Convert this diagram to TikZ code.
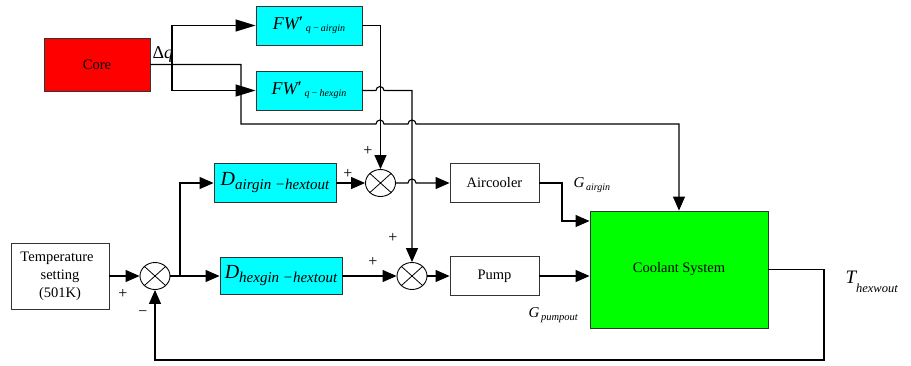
\documentclass[tikz,border=0pt]{standalone}
\usepackage{fontspec}
\setmainfont{Liberation Serif}
\usetikzlibrary{arrows.meta,shapes.geometric}
\newcommand{\fsz}[1]{\fontsize{#1}{#1}\selectfont}
\definecolor{cyanbox}{RGB}{0,255,255}
\definecolor{redbox}{RGB}{255,0,0}
\definecolor{greenbox}{RGB}{0,255,0}
\begin{document}
\begin{tikzpicture}[x=1pt,y=-1pt,
  line width=1.1pt,
  box/.style={draw=black!80, line width=0.9pt, rectangle, inner sep=0pt, font=\fsz{14.5}},
  sumnode/.style={draw, ellipse, minimum width=30pt, minimum height=27pt, inner sep=0pt, line width=0.9pt,
    path picture={\draw[line width=0.8pt] (path picture bounding box.north west) -- (path picture bounding box.south east)
      (path picture bounding box.north east) -- (path picture bounding box.south west);}},
  arr/.style={-{Triangle[length=14pt,width=12pt]}},
  arrl/.style={-{Triangle[length=20pt,width=12pt]}},
  sign/.style={font=\fsz{16}, inner sep=0pt},
  lbl/.style={inner sep=0pt, anchor=base west}
]
\useasboundingbox (0,0) rectangle (911,365);

% blocks
\node[box, fill=redbox, minimum width=106pt, minimum height=53pt] (core) at (97,64.5) {Core};
\node[box, fill=cyanbox, minimum width=106pt, minimum height=39pt] (fwa) at (309,25.5)
  {{\fsz{18}\itshape FW}\raisebox{2pt}{\fsz{16}\bfseries ′}\,\raisebox{-2pt}{\fsz{10}\itshape q\,−\,airgin}};
\node[box, fill=cyanbox, minimum width=106pt, minimum height=39pt] (fwh) at (309,90.5)
  {{\fsz{18}\itshape FW}\raisebox{2pt}{\fsz{16}\bfseries ′}\,\raisebox{-2pt}{\fsz{10}\itshape q\,−\,hexgin}};
\node[box, minimum width=98pt, minimum height=66pt, align=center, font={\fontsize{14.5}{18}\selectfont}] (temp) at (60,276)
  {\hspace*{-6pt}Temperature\\setting\\(501K)};
\node[sumnode] (sum0) at (155,276) {};
\node[box, fill=cyanbox, minimum width=122pt, minimum height=39pt] (da) at (275,183)
  {{\fsz{20}\itshape D}\raisebox{-4pt}{\fsz{15}\itshape airgin −hextout}};
\node[box, fill=cyanbox, minimum width=122pt, minimum height=37pt] (dh) at (281,276)
  {{\fsz{20}\itshape D}\raisebox{-4pt}{\fsz{15}\itshape hexgin −hextout}};
\node[sumnode] (sum1) at (380.5,183) {};
\node[sumnode] (sum2) at (412,276) {};
\node[box, minimum width=89pt, minimum height=39pt] (air) at (494.5,183) {Aircooler};
\node[box, minimum width=89pt, minimum height=39pt] (pump) at (494.5,276) {Pump};
\node[box, fill=greenbox, minimum width=178pt, minimum height=117pt] (cool) at (679,269.5) {Coolant System};

% coordinates
\coordinate (br) at (172,64.5);
\coordinate (sp) at (180,276);
\coordinate (h1) at (0,124);
\coordinate (h2) at (0,221);
\coordinate (h3) at (0,360);

% connectors
\draw[arr] (core.east) -- (241,64.5) -- (241,124) -- (376,124) arc[start angle=180,end angle=360,radius=4]
  -- (408,124) arc[start angle=180,end angle=360,radius=4] -- (cool.north |- h1) -- (cool.north);
\draw[arrl] (br) |- (fwa.west);
\draw[arrl] (br) |- (fwh.west);
\draw[arr] (fwa.east) -| (sum1.north);
\draw[arr] (fwh.east) -- (376,90.5) arc[start angle=180,end angle=360,radius=4] -- (sum2.north |- fwh.east) -- (sum2.north);
\draw[arr] (temp.east) -- (sum0.west);
\draw[arr] (sum0.east) -- (dh.west);
\draw[arr] (sp) |- (da.west);
\draw[arr] (da.east) -- (sum1.west);
\draw[arr] (dh.east) -- (sum2.west);
\draw[arr] (sum1.east) -- (408,183) arc[start angle=180,end angle=360,radius=4] -- (air.west);
\draw[arr] (sum2.east) -- (pump.west);
\draw[arr] (air.east) -- (562,183) -- (562,221) -- (cool.west |- h2);
\draw[arr] (pump.east) -- (pump.east -| cool.west);
\draw[arr] (cool.east) -- (824,269.5) -- (824,360) -- (sum0.south |- h3) -- (sum0.south);

% labels
\node[lbl] (dq) at (152,58) {\fsz{18}Δ\itshape q};
\node[sign] (p0) at (123,294) {+};
\node[sign] (m0) at (143,314) {−};
\node[sign] (p1) at (348,174) {+};
\node[sign] (p2) at (368,151) {+};
\node[sign] (p3) at (373,262) {+};
\node[sign] (p4) at (393,238) {+};
\node[lbl] (ga) at (573,187) {{\fsz{15}\itshape G}\,\raisebox{-3pt}{\fsz{10}\itshape airgin}};
\node[lbl] (gp) at (528,317) {{\fsz{15}\itshape G}\,\raisebox{-3pt}{\fsz{10.5}\itshape pumpout}};
\node[lbl] (th) at (845,283) {{\fsz{19}\itshape T}\raisebox{-9pt}{\fsz{12.5}\itshape hexwout}};
\end{tikzpicture}
\end{document}
